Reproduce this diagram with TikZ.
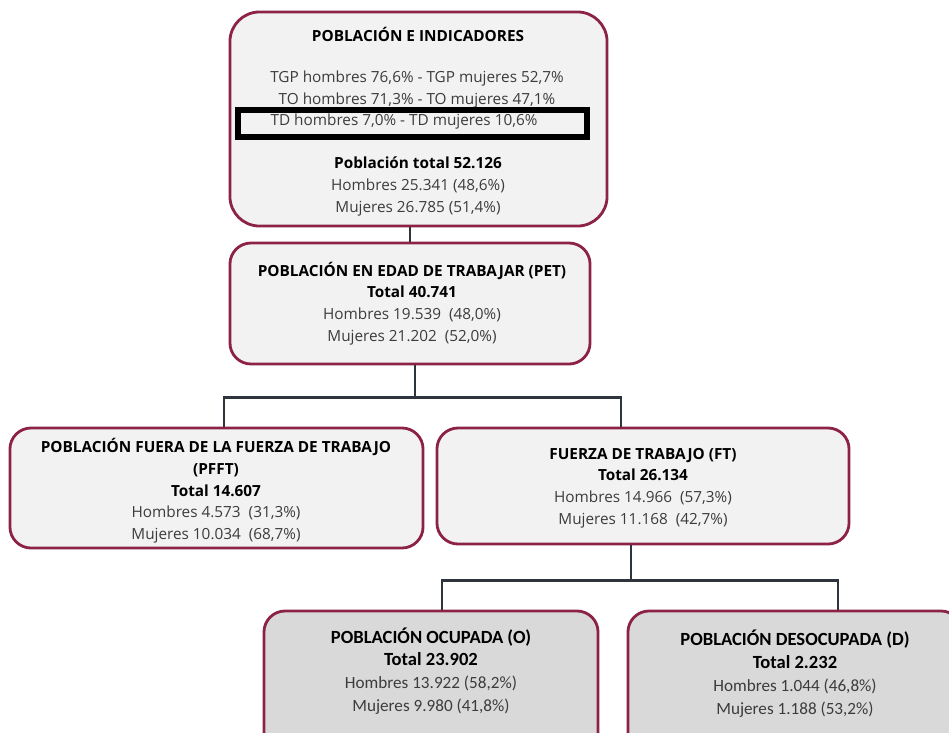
\documentclass[tikz,border=0pt]{standalone}
\usepackage{fontspec}
\setmainfont{Open Sans}
\newfontfamily\carlito{Carlito}
\usetikzlibrary{calc}

\definecolor{vino}{HTML}{8C2346}
\definecolor{gris}{HTML}{F2F2F2}
\definecolor{grisosc}{HTML}{D9D9D9}
\definecolor{linea}{HTML}{2E343B}
\definecolor{texto}{HTML}{3C3C3C}

\tikzset{
  caja/.style={draw=vino, line width=2pt, fill=gris, rounded corners=15pt, inner sep=0pt},
  cajaosc/.style={caja, fill=grisosc},
  link/.style={draw=linea, line width=2pt},
  txt/.style={align=center, text=texto, inner sep=0pt, font=\fontsize{10.9}{15.4}\selectfont},
  txtb/.style={align=center, text=texto, inner sep=0pt, font=\carlito\fontsize{12.2}{16.2}\selectfont},
}

\begin{document}
\begin{tikzpicture}[x=0.025cm,y=-0.025cm]
\useasboundingbox (0,0) rectangle (949,732);
\clip (0,0) rectangle (949,732);

% cajas
\node[caja, rounded corners=21pt, minimum width=9.425cm, minimum height=5.35cm] (pob) at (418.5,119) {};
\node[caja, minimum width=9cm, minimum height=3.025cm] (pet) at (410,303.5) {};
\node[caja, minimum width=10.325cm, minimum height=3cm] (pfft) at (216.5,488) {};
\node[caja, minimum width=10.3cm, minimum height=2.9cm] (ft) at (643,486) {};
\node[cajaosc, minimum width=8.35cm, minimum height=3.6cm] (ocu) at (431,683) {};
\node[cajaosc, minimum width=8.35cm, minimum height=3.6cm] (des) at (795,683) {};

% conectores
\draw[link] (pet.north) -- (pet.north |- pob.south);
\draw[link] ($(pet.south)+(5,0)$) -- ++(0,32) coordinate (j1);
\draw[link] ($(pfft.north)+(7.5,0)$) |- (j1) -| ($(ft.north)+(-22,0)$);
\draw[link] ($(ft.south)+(-12,0)$) -- ++(0,35) coordinate (j2);
\draw[link] ($(ocu.north)+(11,0)$) |- (j2) -| ($(des.north)+(43,0)$);

% textos
\node[txt, text=black] (pobtit) at (418,34) {\textbf{POBLACIÓN E INDICADORES}};
\node[txt] (pobind) at (417,89.5) {TGP hombres 76,6\% - TGP mujeres 52,7\%\\TO hombres 71,3\% - TO mujeres 47,1\%};
\node[txt] (tdtxt) at (404,122) {TD hombres 7,0\% - TD mujeres 10,6\%};
\node[draw=black, line width=4.5pt, minimum width=8.725cm, minimum height=0.675cm, inner sep=0pt] (marco) at (412.5,123.5) {};
\node[txt] (pobtot) at (418,186.5) {\textcolor{black}{\textbf{Población total 52.126}}\\Hombres 25.341 (48,6\%)\\Mujeres 26.785 (51,4\%)};

\node[txt] (pettxt) at (412,303.5) {\textcolor{black}{\textbf{POBLACIÓN EN EDAD DE TRABAJAR (PET)}}\\\textcolor{black}{\textbf{Total 40.741}}\\Hombres 19.539~ (48,0\%)\\Mujeres 21.202~ (52,0\%)};
\node[txt] (pffttxt) at (216,491) {\textcolor{black}{\textbf{POBLACIÓN FUERA DE LA FUERZA DE TRABAJO}}\\\textcolor{black}{\textbf{(PFFT)}}\\\textcolor{black}{\textbf{Total 14.607}}\\Hombres 4.573~ (31,3\%)\\Mujeres 10.034~ (68,7\%)};
\node[txt] (fttxt) at (643,488) {\textcolor{black}{\textbf{FUERZA DE TRABAJO (FT)}}\\\textcolor{black}{\textbf{Total 26.134}}\\Hombres 14.966~ (57,3\%)\\Mujeres 11.168~ (42,7\%)};
\node[txtb] (ocutxt) at (431,671) {\textcolor{black}{\textbf{\fontsize{13.2}{16.2}\selectfont POBLACIÓN OCUPADA (O)}}\\\textcolor{black}{\textbf{\fontsize{13.2}{16.2}\selectfont Total 23.902}}\\Hombres 13.922 (58,2\%)\\Mujeres 9.980 (41,8\%)};
\node[txtb] (destxt) at (795,673.5) {\textcolor{black}{\textbf{\fontsize{13.2}{16.2}\selectfont POBLACIÓN DESOCUPADA (D)}}\\\textcolor{black}{\textbf{\fontsize{13.2}{16.2}\selectfont Total 2.232}}\\Hombres 1.044 (46,8\%)\\Mujeres 1.188 (53,2\%)};

\end{tikzpicture}
\end{document}
